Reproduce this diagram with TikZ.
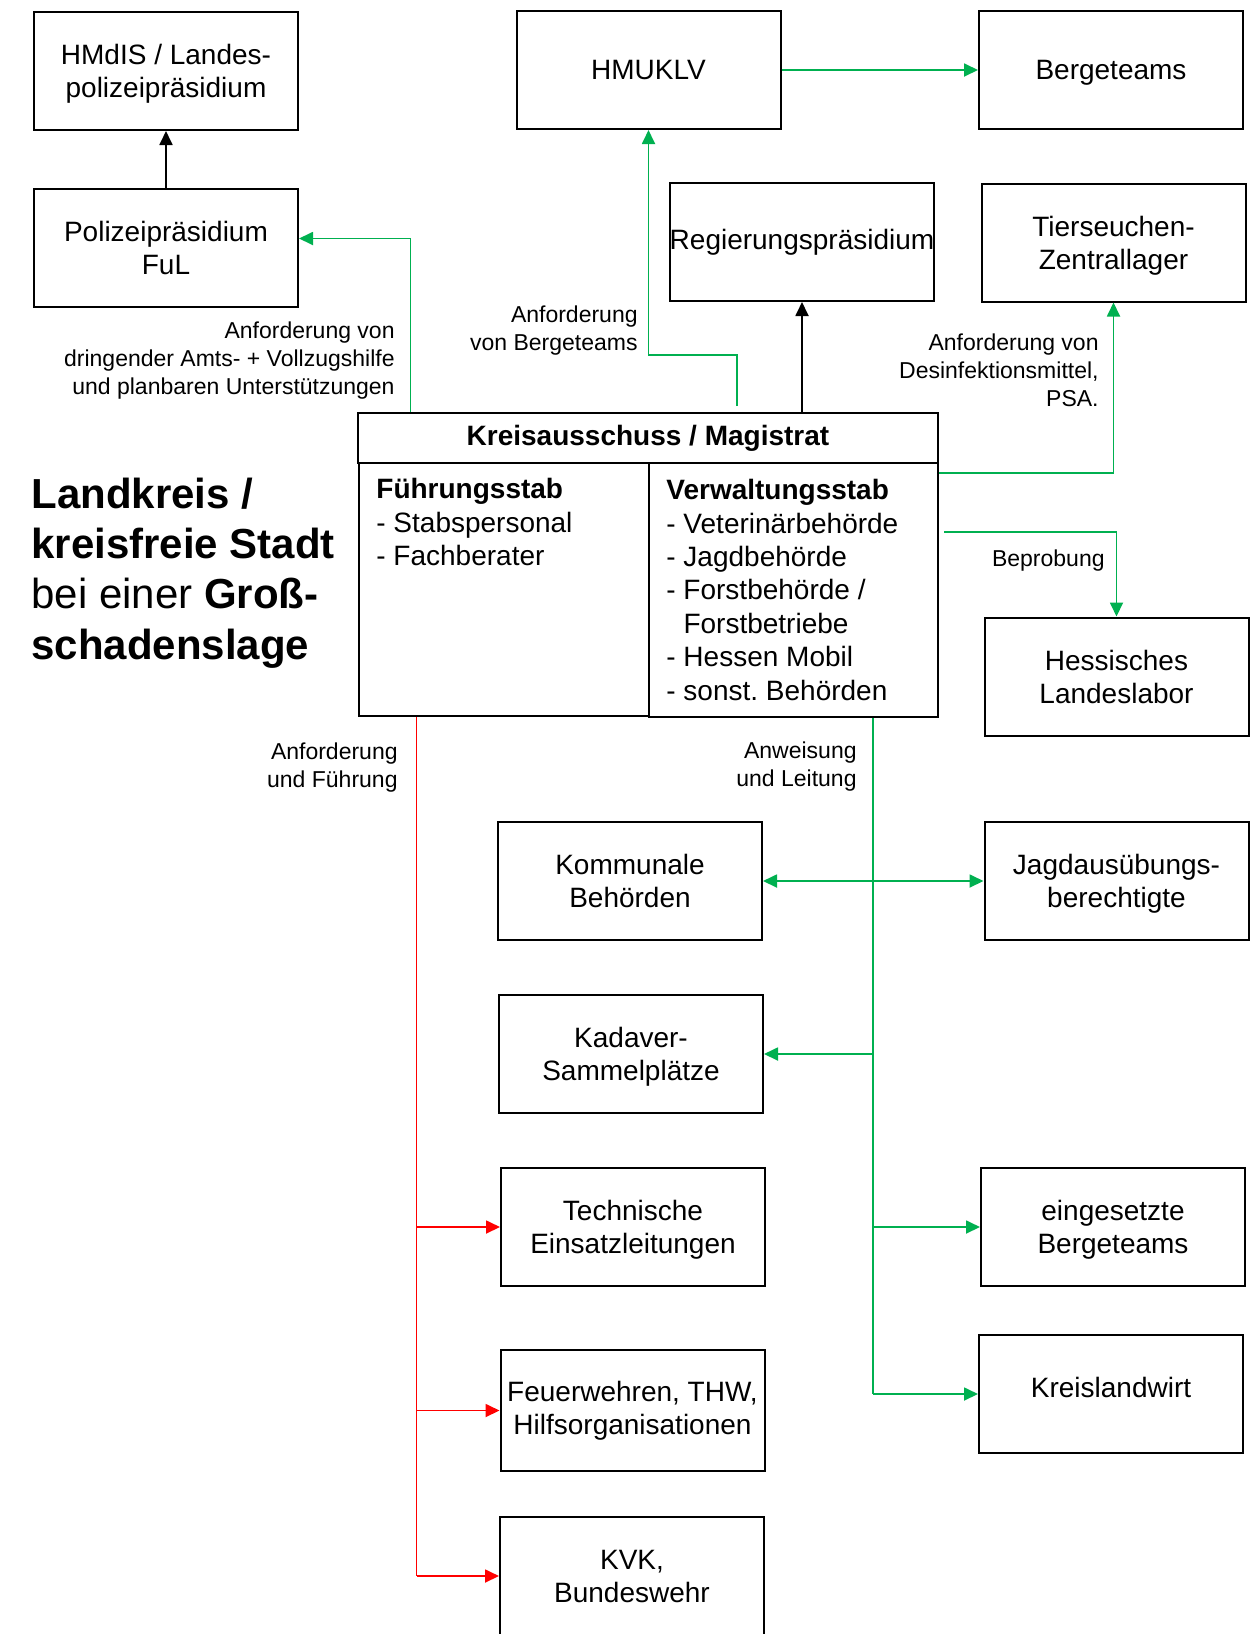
\documentclass[tikz,border=0pt]{standalone}
\usepackage{fontspec}
\setmainfont{Liberation Sans}
\usetikzlibrary{arrows.meta}
\definecolor{gruen}{HTML}{00B050}
\definecolor{rot}{HTML}{FF0000}
\newcommand\bxfont{\fontsize{14}{16.5}\selectfont}
\newcommand\lbfont{\fontsize{11.5}{14}\selectfont}
\newcommand\ttlfont{\fontsize{21}{25.2}\selectfont}
\frenchspacing

\begin{document}
\begin{tikzpicture}[x=0.5pt, y=-0.5pt, >={Triangle[length=7pt,width=6.5pt]},
  box/.style={draw, line width=1pt, minimum width=132pt, minimum height=59pt, align=center, font=\bxfont, inner sep=1pt, text depth=0pt},
  lbl/.style={align=right, font=\lbfont, inner sep=0pt, anchor=east},
  gpfeil/.style={->, color=gruen, line width=0.9pt},
  rpfeil/.style={->, color=rot, line width=0.9pt},
  spfeil/.style={->, line width=0.9pt}]
  \useasboundingbox (0,0) rectangle (1256,1634);

  % obere Reihe
  \node[box] (hmdis) at (166,71) {HMdIS / Landes-\\polizeipräsidium};
  \node[box] (pol) at (166,247.5) {Polizeipräsidium\\FuL};
  \node[box] (hmuklv) at (648.5,70) {HMUKLV};
  \node[box] (berg) at (1111,70) {Bergeteams};
  \node[box, inner sep=0pt, text depth=3pt] (regp) at (802,242) {Regierungspräsidium};
  \node[box] (tier) at (1113.5,242.5) {Tierseuchen-\\Zentrallager};

  % Kreisausschuss
  \node[box, minimum width=290pt, minimum height=25pt, text depth=3pt] (kreis) at (648,438) {\textbf{Kreisausschuss / Magistrat}};
  \node[box, minimum width=145pt, minimum height=126.5pt] (fstab) at (504,589.5) {};
  \node[box, minimum width=144.5pt, minimum height=127pt] (vstab) at (793.5,590) {};
  \node[anchor=north west, align=left, inner sep=0pt, font=\fontsize{14}{16.7}\selectfont] (fstxt) at (376,478)
    {\textbf{Führungsstab}\\- Stabspersonal\\- Fachberater};
  \node[anchor=north west, align=left, inner sep=0pt, font=\fontsize{14}{16.7}\selectfont] (vstxt) at (666,479)
    {\textbf{Verwaltungsstab}\\- Veterinärbehörde\\- Jagdbehörde\\- Forstbehörde /\\\phantom{- }Forstbetriebe\\- Hessen Mobil\\- sonst. Behörden};

  \node[anchor=west, align=left, inner sep=0pt, font=\ttlfont] (titel) at (31,573)
    {\textbf{Landkreis /}\\\textbf{kreisfreie Stadt}\\bei einer \textbf{Groß-}\\\textbf{schadenslage}};

  \node[box, text depth=-3pt] (lab) at (1116.5,676.5) {Hessisches\\Landeslabor};

  % untere Boxen
  \node[box, text depth=-3pt] (kom) at (630,881) {Kommunale\\Behörden};
  \node[box] (jagd) at (1116.5,881) {Jagdausübungs-\\berechtigte};
  \node[box] (kad) at (631,1054) {Kadaver-\\Sammelplätze};
  \node[box] (tech) at (633,1227) {Technische\\Einsatzleitungen};
  \node[box] (eing) at (1113,1227) {eingesetzte\\Bergeteams};
  \node[box, minimum height=60.5pt, text depth=3pt] (feu) at (632.5,1410.5) {Feuerwehren, THW,\\Hilfsorganisationen};
  \node[box, text depth=7pt] (kreisl) at (1111,1394) {Kreislandwirt};
  \node[box] (kvk) at (632,1576) {KVK,\\Bundeswehr};

  % Beschriftungen
  \node[lbl] (lbpol) at (395,360.5) {Anforderung von\\dringender Amts- + Vollzugshilfe\\und planbaren Unterstützungen};
  \node[lbl] (lbhm) at (638,330.5) {Anforderung\\von Bergeteams};
  \node[lbl] (lbtier) at (1099,370) {Anforderung von\\Desinfektionsmittel,\\PSA.};
  \node[lbl] (lbbep) at (1105,561) {Beprobung};
  \node[lbl] (lbrot) at (398,768) {Anforderung\\und Führung};
  \node[lbl] (lbgr) at (857,767) {Anweisung\\und Leitung};

  \coordinate (rt) at ([xshift=29.25pt]fstab.south west);
  \coordinate (gt) at ([xshift=39.75pt]vstab.south);

  % Verbindungen oben
  \path[spfeil] (pol) edge (hmdis)
    (kreis.north -| regp.south) edge (regp);
  \draw[gpfeil] ([xshift=26.75pt]kreis.north west) |- ([yshift=4.5pt]pol.east);
  \draw[gpfeil] ([xshift=190pt,yshift=3pt]kreis.north west) -- ++(0,-51) -| (hmuklv.south);
  \draw[gpfeil] (hmuklv) -- (berg);
  \draw[gpfeil] (vstab.north east) ++(0,11) -| (tier.south);
  \draw[gpfeil] (vstab.north east) ++(5,70) -| (lab.north);

  % Stränge unten
  \draw[rot, line width=0.6pt] (rt) -- (rt |- kvk.west);
  \path[rpfeil] (rt |- tech.west) edge (tech)
    (rt |- feu.west) edge (feu)
    (rt |- kvk.west) edge (kvk);
  \draw[gruen, line width=0.6pt] (gt) -- (gt |- kreisl.west);
  \draw[gpfeil, <->] (kom) -- (jagd);
  \path[gpfeil] (gt |- kad.east) edge (kad)
    (gt |- eing.west) edge (eing)
    (gt |- kreisl.west) edge (kreisl);
\end{tikzpicture}
\end{document}
